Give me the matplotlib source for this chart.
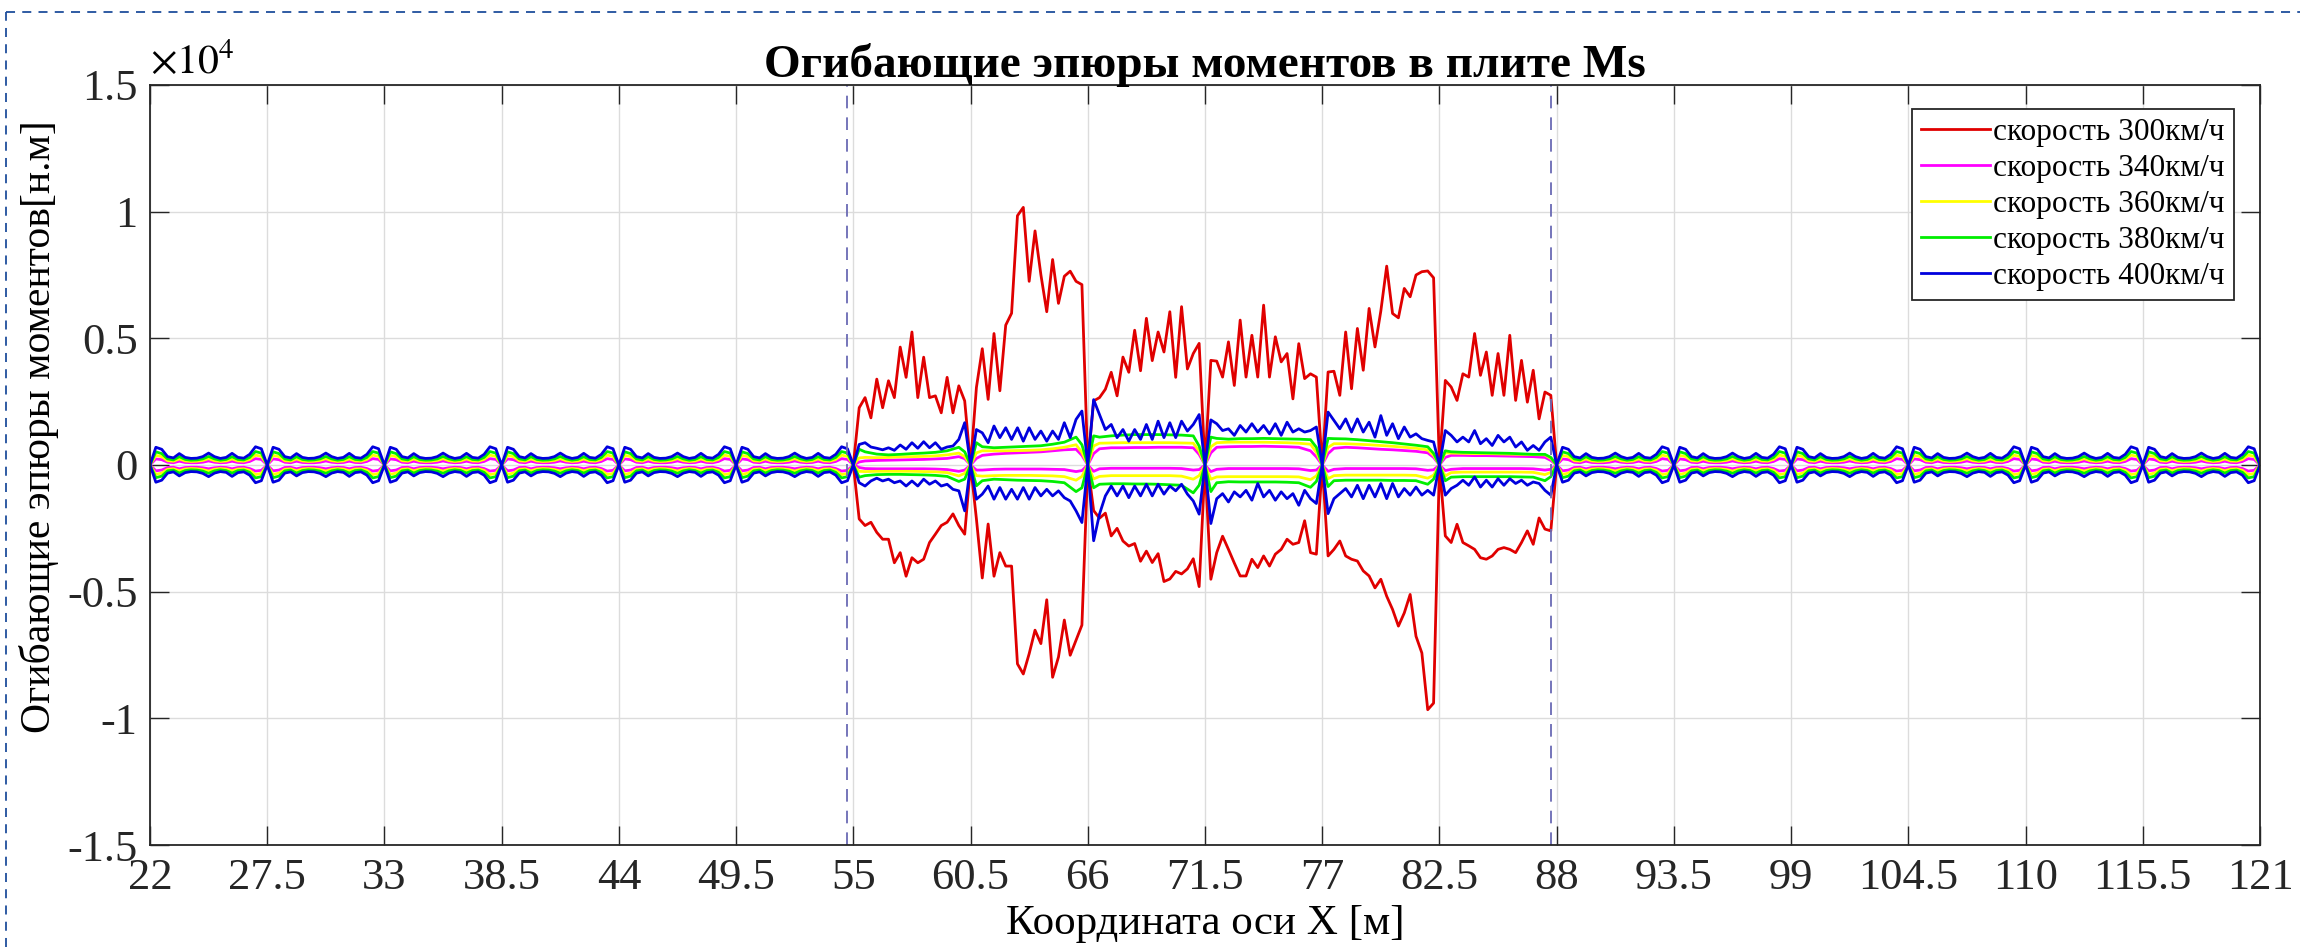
import matplotlib
matplotlib.use("Agg")
import matplotlib.pyplot as plt
from matplotlib.lines import Line2D

plt.rcParams["font.family"] = ["Liberation Serif", "DejaVu Serif"]

nan = float("nan")

# supports every 5.5 m, loaded zone between 55 and 88
supports = [22.0, 27.5, 33.0, 38.5, 44.0, 49.5, 55.0, 60.5, 66.0, 71.5, 77.0,
            82.5, 88.0, 93.5, 99.0, 104.5, 110.0, 115.5, 121.0]
x_ticks = supports
y_ticks = [-15000, -10000, -5000, 0, 5000, 10000, 15000]
y_tick_labels = ["-1.5", "-1", "-0.5", "0", "0.5", "1", "1.5"]
guide_x = [54.7, 87.75]

labels = ["скорость 300км/ч", "скорость 340км/ч", "скорость 360км/ч",
          "скорость 380км/ч", "скорость 400км/ч"]
colors = ["#e00000", "#ff00ff", "#ffff00", "#00ee00", "#0000dd"]

# sample offsets inside a span [m]
fine_offsets = [0.0, 0.275, 0.55, 0.825, 1.1, 1.375, 1.65, 1.925, 2.2, 2.475,
                2.75, 3.025, 3.3, 3.575, 3.85, 4.125, 4.4, 4.675, 4.95, 5.225]
coarse_offsets = [0.0, 0.275, 0.55, 1.1, 1.65, 2.2, 2.75, 3.3, 3.85, 4.4,
                  4.95, 5.225]

# --- unloaded spans (all outer spans look identical); 300 km/h not visible there ---
outer_up = {
    300: [0] + [nan] * 19,
    340: [0, 240, 210, 110, 90, 150, 100, 90, 90, 110, 160, 110, 90, 100, 150, 100, 90, 140, 250, 220],
    360: [0, 380, 330, 170, 150, 240, 160, 140, 150, 180, 250, 170, 140, 160, 240, 160, 150, 220, 390, 340],
    380: [0, 520, 450, 240, 200, 330, 220, 190, 200, 240, 340, 240, 190, 220, 330, 220, 200, 300, 530, 470],
    400: [0, 700, 620, 330, 280, 450, 300, 260, 270, 330, 470, 330, 260, 300, 460, 300, 270, 420, 720, 640],
}
outer_lo = {
    300: [0] + [nan] * 19,
    340: [0, -230, -200, -100, -90, -150, -100, -90, -90, -110, -150, -110, -90, -100, -150, -100, -90, -140, -240, -210],
    360: [0, -370, -320, -170, -150, -230, -160, -140, -150, -180, -240, -170, -140, -160, -230, -160, -150, -210, -380, -330],
    380: [0, -500, -440, -230, -200, -320, -220, -190, -200, -240, -330, -230, -190, -220, -320, -220, -200, -290, -510, -460],
    400: [0, -680, -600, -320, -270, -430, -300, -260, -270, -330, -460, -320, -260, -290, -450, -300, -270, -400, -700, -620],
}

# --- loaded spans 55-88 (six spans) ---
red_up = [
    [0, 2260, 2660, 1860, 3390, 2260, 3325, 2660, 4655, 3460, 5250, 2660, 4256, 2660, 2730, 2060, 3460, 2060, 3125, 2530],
    [0, 3060, 4590, 2590, 5190, 2930, 5520, 5990, 9840, 10170, 7250, 9240, 7510, 6050, 8110, 6380, 7450, 7650, 7250, 7120],
    [0, 2530, 2660, 2990, 3660, 2730, 4260, 3660, 5320, 3720, 5790, 4120, 5250, 4460, 6050, 3460, 6250, 3790, 4400, 4800],
    [0, 4130, 4100, 3470, 4860, 3140, 5720, 3470, 5120, 3470, 6310, 3470, 5060, 4070, 4400, 2610, 4790, 3410, 3600, 3470],
    [0, 3670, 3700, 2750, 5250, 3010, 5390, 3740, 6180, 4660, 6080, 7850, 5980, 5810, 6970, 6640, 7500, 7630, 7660, 7390],
    [0, 3340, 3080, 2550, 3600, 3470, 5190, 3540, 4460, 2750, 4400, 2750, 5120, 2550, 4130, 2480, 3740, 1820, 2880, 2750],
]
red_lo = [
    [0, -2130, -2390, -2260, -2660, -2930, -2930, -3860, -3460, -4390, -3660, -3860, -3720, -3060, -2730, -2390, -2260, -1930, -2390, -2730],
    [0, -2130, -4460, -2330, -4390, -3460, -3990, -3990, -7850, -8250, -7450, -6520, -7050, -5320, -8380, -7580, -6120, -7510, -6920, -6320],
    [0, -1800, -2100, -1900, -2800, -2500, -3000, -3200, -3100, -3800, -3400, -3850, -3500, -4600, -4500, -4200, -4300, -4100, -3700, -4800],
    [0, -4510, -3460, -2810, -3330, -3870, -4380, -4380, -3720, -4050, -3590, -3990, -3520, -3330, -2930, -3130, -3060, -2200, -3460, -3520],
    [0, -3590, -3330, -3000, -3590, -3720, -3790, -4180, -4380, -4850, -4510, -5180, -5700, -6360, -5840, -5110, -6760, -7420, -9660, -9400],
    [0, -2800, -3060, -2340, -3060, -3190, -3330, -3660, -3720, -3590, -3330, -3260, -3330, -3460, -3060, -2600, -3130, -2090, -2530, -2600],
]
blue_up = [
    [0, 810, 880, 710, 660, 600, 680, 580, 790, 620, 880, 660, 920, 680, 880, 620, 710, 750, 1010, 1670],
    [0, 1400, 1270, 880, 1540, 1080, 1470, 1010, 1470, 940, 1470, 1010, 1340, 940, 1340, 1010, 1670, 1080, 1800, 2130],
    [0, 2580, 1990, 1400, 1600, 1080, 1400, 940, 1400, 1010, 1600, 1010, 1730, 1080, 1670, 1080, 1730, 1340, 1600, 1990],
    [0, 1780, 1630, 1360, 1430, 1170, 1560, 1300, 1630, 1300, 1560, 1230, 1630, 1170, 1690, 1300, 1430, 1300, 1360, 1500],
    [0, 2090, 1760, 1430, 1820, 1300, 1820, 1300, 1690, 1100, 1950, 1170, 1630, 1040, 1500, 1100, 1230, 1040, 970, 910],
    [0, 1360, 1170, 910, 1100, 910, 1360, 840, 1040, 770, 1170, 910, 1100, 710, 910, 580, 770, 580, 910, 1100],
]
blue_lo = [
    [0, -700, -830, -630, -520, -630, -560, -700, -630, -830, -630, -830, -560, -760, -630, -830, -760, -960, -1020, -1810],
    [0, -1350, -1150, -830, -1350, -890, -1350, -960, -1350, -890, -1350, -890, -1220, -960, -1220, -1020, -1290, -1420, -1810, -2270],
    [0, -2990, -1940, -1220, -830, -1220, -830, -1290, -830, -1220, -760, -1220, -760, -1150, -830, -1020, -760, -1150, -1420, -1940],
    [0, -2310, -1330, -1130, -1460, -1060, -1260, -1000, -1390, -730, -1260, -1000, -1390, -1060, -1330, -1130, -1590, -1000, -1330, -1520],
    [0, -1920, -1330, -1130, -930, -1260, -800, -1330, -800, -1260, -730, -1330, -730, -1260, -930, -1190, -870, -1190, -1000, -1190],
    [0, -1190, -930, -800, -600, -800, -470, -870, -600, -870, -540, -800, -540, -730, -600, -800, -670, -730, -1000, -1190],
]
magenta_up = [
    [0, 120, 160, 180, 190, 200, 210, 220, 240, 260, 330, 250],
    [0, 260, 380, 430, 460, 480, 500, 520, 560, 600, 620, 380],
    [0, 450, 640, 680, 680, 690, 690, 700, 700, 700, 680, 420],
    [0, 480, 700, 720, 730, 730, 740, 730, 720, 700, 560, 320],
    [0, 450, 660, 700, 680, 650, 620, 600, 570, 540, 480, 300],
    [0, 300, 380, 380, 370, 370, 360, 350, 340, 330, 300, 180],
]
magenta_lo = [
    [0, -100, -140, -150, -150, -150, -150, -150, -160, -180, -250, -200],
    [0, -200, -200, -170, -160, -160, -160, -160, -170, -180, -260, -220],
    [0, -250, -150, -130, -130, -130, -130, -130, -130, -140, -200, -180],
    [0, -260, -170, -140, -140, -140, -140, -140, -140, -150, -220, -200],
    [0, -250, -170, -140, -140, -140, -140, -140, -140, -150, -210, -190],
    [0, -220, -170, -140, -140, -140, -140, -140, -140, -150, -200, -170],
]
yellow_up = [
    [0, 280, 300, 290, 300, 320, 330, 340, 360, 400, 470, 330],
    [0, 480, 560, 560, 560, 570, 580, 600, 640, 700, 800, 500],
    [0, 750, 860, 870, 880, 880, 880, 880, 880, 870, 860, 550],
    [0, 720, 880, 900, 900, 900, 900, 890, 880, 860, 820, 500],
    [0, 700, 840, 840, 820, 800, 770, 740, 700, 660, 600, 380],
    [0, 480, 470, 460, 450, 450, 440, 430, 420, 410, 400, 260],
]
yellow_lo = [
    [0, -250, -260, -250, -250, -250, -250, -260, -270, -300, -430, -330],
    [0, -420, -440, -420, -410, -410, -410, -420, -430, -460, -600, -450],
    [0, -550, -450, -420, -420, -420, -420, -420, -420, -440, -560, -420],
    [0, -560, -470, -460, -460, -460, -460, -460, -460, -470, -580, -430],
    [0, -540, -420, -400, -400, -400, -400, -400, -400, -410, -520, -400],
    [0, -430, -300, -280, -280, -280, -280, -280, -280, -290, -380, -290],
]
green_up = [
    [0, 620, 520, 430, 400, 420, 450, 470, 500, 560, 700, 520],
    [0, 880, 720, 680, 700, 720, 740, 760, 820, 900, 1100, 800],
    [0, 1150, 1100, 1150, 1180, 1200, 1200, 1200, 1190, 1180, 1150, 750],
    [0, 1100, 1050, 1020, 1040, 1040, 1050, 1040, 1030, 1020, 1000, 700],
    [0, 1050, 1040, 1030, 1000, 960, 920, 880, 830, 780, 720, 460],
    [0, 560, 520, 500, 490, 480, 470, 460, 440, 420, 420, 300],
]
green_lo = [
    [0, -480, -420, -380, -370, -370, -380, -390, -410, -450, -650, -560],
    [0, -820, -620, -560, -580, -600, -610, -620, -650, -700, -1050, -900],
    [0, -900, -760, -740, -740, -750, -750, -760, -780, -800, -1100, -800],
    [0, -1050, -700, -660, -670, -670, -670, -670, -680, -700, -880, -650],
    [0, -850, -620, -600, -600, -600, -600, -610, -610, -620, -760, -560],
    [0, -620, -480, -460, -460, -460, -460, -460, -470, -480, -620, -460],
]

series = [
    (300, red_up, red_lo, fine_offsets),
    (340, magenta_up, magenta_lo, coarse_offsets),
    (360, yellow_up, yellow_lo, coarse_offsets),
    (380, green_up, green_lo, coarse_offsets),
    (400, blue_up, blue_lo, fine_offsets),
]


def assemble(outer, middle, mid_offsets):
    xs, ys = [], []
    k = 0
    for x0 in supports[:-1]:
        if 55.0 <= x0 < 88.0:
            offs, vals = mid_offsets, middle[k]
            k += 1
        else:
            offs, vals = fine_offsets, outer
        xs += [x0 + d for d in offs]
        ys += vals
    xs.append(supports[-1])
    ys.append(0)
    return xs, ys


fig = plt.figure(figsize=(23, 9.47), dpi=100)
ax = fig.add_axes([150 / 2300, 1 - 845 / 947, 2110 / 2300, 760 / 947])

for (speed, up, lo, offs), col, lab in zip(series, colors, labels):
    xu, yu = assemble(outer_up[speed], up, offs)
    xl, yl = assemble(outer_lo[speed], lo, offs)
    ax.plot(xu, yu, color=col, lw=2.0, label=lab)
    ax.plot(xl, yl, color=col, lw=2.0)

for gx in guide_x:
    ax.axvline(gx, color="#6a6ab4", lw=1.3, ls=(0, (7, 5)))

ax.set_xlim(22, 121)
ax.set_ylim(-15000, 15000)
ax.set_xticks(x_ticks)
ax.set_xticklabels([f"{v:g}" for v in x_ticks])
ax.set_yticks(y_ticks)
ax.set_yticklabels(y_tick_labels)
ax.grid(True, color="#dcdcdc", lw=1.0)
ax.set_axisbelow(True)
ax.tick_params(direction="in", length=14, width=1.0, top=True, right=True,
               labelsize=32, colors="#262626", pad=9)
for sp in ax.spines.values():
    sp.set_color("#262626")
    sp.set_linewidth(1.3)

ax.set_title("Огибающие эпюры моментов в плите Ms", fontsize=34,
             fontweight="bold", pad=6)
ax.set_xlabel("Координата оси X [м]", fontsize=31, labelpad=5)
ax.set_ylabel("Огибающие эпюры моментов[н.м]", fontsize=30)
ax.yaxis.set_label_coords(-0.043, 0.55)
ax.text(0.0, 1.004, r"$\times10^{4}$", transform=ax.transAxes, fontsize=30,
        ha="left", va="bottom", math_fontfamily="stix")

leg = ax.legend(loc="upper right", bbox_to_anchor=(0.9877, 0.9684),
                borderaxespad=0, fontsize=22.5, frameon=True, fancybox=False,
                framealpha=1, edgecolor="#262626", handlelength=2.2,
                handletextpad=0.1, labelspacing=0.22, borderpad=0.3)
leg.get_frame().set_linewidth(1.3)

# dashed frame of the original screenshot
fig.add_artist(Line2D([0.0028, 0.0028], [0.0, 0.987], transform=fig.transFigure,
                      color="#1f4e9c", lw=1.3, ls=(0, (5, 4))))
fig.add_artist(Line2D([0.0028, 1.0], [0.987, 0.987], transform=fig.transFigure,
                      color="#1f4e9c", lw=1.3, ls=(0, (5, 4))))

fig.savefig("out.png", dpi=100)
